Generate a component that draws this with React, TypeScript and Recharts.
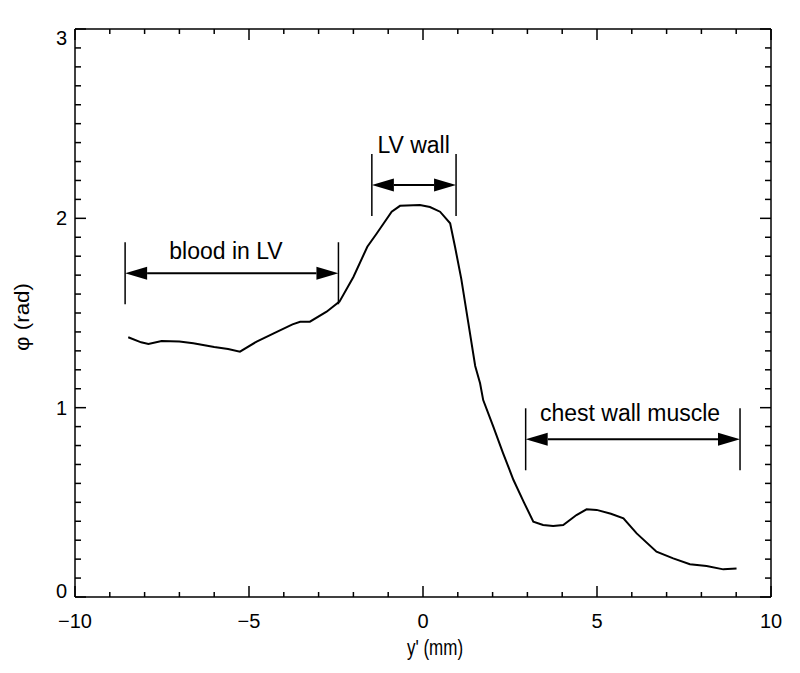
import React from "react";
import {
  LineChart,
  Line,
  XAxis,
  YAxis,
  ReferenceLine,
  ReferenceDot,
} from "recharts";

// profile across the heart: position y' (mm) and phase phi (rad)
const yPos = [
  -8.47, -8.1, -7.89, -7.51, -7.0, -6.6, -6.0, -5.6, -5.26, -4.78, -4.2, -3.75,
  -3.53, -3.25, -2.77, -2.4, -2.0, -1.6, -1.33, -0.9, -0.66, -0.09, 0.2, 0.49,
  0.78, 0.92, 1.1, 1.3, 1.5, 1.64, 1.73, 2.02, 2.3, 2.6, 2.9, 3.17, 3.45, 3.74,
  4.03, 4.41, 4.7, 4.99, 5.4, 5.76, 6.14, 6.71, 7.19, 7.67, 8.15, 8.63, 9.01,
];
const phi = [
  1.372, 1.345, 1.336, 1.352, 1.35, 1.34, 1.32, 1.31, 1.296, 1.349, 1.4, 1.44,
  1.454, 1.454, 1.507, 1.56, 1.69, 1.85, 1.92, 2.035, 2.066, 2.07, 2.06, 2.035,
  1.974, 1.85, 1.68, 1.45, 1.22, 1.129, 1.04, 0.9, 0.76, 0.618, 0.5, 0.398, 0.38,
  0.375, 0.38, 0.433, 0.463, 0.46, 0.44, 0.416, 0.336, 0.239, 0.204, 0.173,
  0.164, 0.146, 0.15,
];

const xDomain: [number, number] = [-10, 10];
const yDomain: [number, number] = [0, 3];
const xTicks = Array.from({ length: 21 }, (_, i) => i - 10);
const yTicks = Array.from({ length: 31 }, (_, i) => i / 10);
const xMajorStep = 5;

// region markers: arrow span, arrow height, text anchor
const regions = [
  { label: "blood in LV", from: -8.56, to: -2.43, at: 1.71, textX: -5.66, textY: 1.828 },
  { label: "LV wall", from: -1.47, to: 0.95, at: 2.176, textX: -0.27, textY: 2.388 },
  { label: "chest wall muscle", from: 2.95, to: 9.11, at: 0.833, textX: 5.95, textY: 0.972 },
];

const data = yPos.map((x, i) => ({ x, phi: phi[i] }));

const FONT = "'Liberation Sans', Arial, Helvetica, sans-serif";
const INK = "#000";

const W = 792;
const H = 665;
const MARGIN = { top: 21, right: 29, left: 7, bottom: 26 };
const Y_AXIS_W = 60;
const X_AXIS_H = 50;
// inner plot size, used to mirror ticks onto the top and right frame
const PLOT_W = W - MARGIN.left - MARGIN.right - Y_AXIS_W;
const PLOT_H = H - MARGIN.top - MARGIN.bottom - X_AXIS_H;

const isMajorY = (v: number) => Math.abs(v - Math.round(v)) < 1e-6;

function BottomTick({ x, y, payload }: any) {
  const v = payload.value;
  const len = v % xMajorStep === 0 ? 11 : 5;
  const top = y - PLOT_H;
  return (
    <g>
      <line x1={x} y1={y} x2={x} y2={y - len} stroke={INK} strokeWidth={1.5} />
      <line x1={x} y1={top} x2={x} y2={top + len} stroke={INK} strokeWidth={1.5} />
      {len > 5 && (
        <text x={x} y={y + 31} textAnchor="middle" fontSize={20} fontFamily={FONT} fill={INK}>
          {v < 0 ? `\u2212${Math.abs(v)}` : v}
        </text>
      )}
    </g>
  );
}

function LeftTick({ x, y, payload }: any) {
  const v = payload.value;
  const major = isMajorY(v);
  const len = major ? 11 : 6;
  const right = x + PLOT_W;
  // end labels sit a little inside the box
  const shift = v >= yDomain[1] ? 9 : v <= yDomain[0] ? -6 : 0;
  return (
    <g>
      <line x1={x} y1={y} x2={x + len} y2={y} stroke={INK} strokeWidth={1.5} />
      <line x1={right} y1={y} x2={right - len} y2={y} stroke={INK} strokeWidth={1.5} />
      {major && (
        <text x={x - 8} y={y + 7 + shift} textAnchor="end" fontSize={20} fontFamily={FONT} fill={INK}>
          {Math.round(v)}
        </text>
      )}
    </g>
  );
}

function SpanArrow({ x1, y1, x2 }: any) {
  const head = 22;
  const half = 6.5;
  const bar = 31;
  return (
    <g>
      <line x1={x1 + head} y1={y1} x2={x2 - head} y2={y1} stroke={INK} strokeWidth={2} />
      <polygon points={`${x1},${y1} ${x1 + head},${y1 - half} ${x1 + head},${y1 + half}`} fill={INK} />
      <polygon points={`${x2},${y1} ${x2 - head},${y1 - half} ${x2 - head},${y1 + half}`} fill={INK} />
      <line x1={x1} y1={y1 - bar} x2={x1} y2={y1 + bar} stroke={INK} strokeWidth={1.5} />
      <line x1={x2} y1={y1 - bar} x2={x2} y2={y1 + bar} stroke={INK} strokeWidth={1.5} />
    </g>
  );
}

export default function App() {
  return (
    <div style={{ background: "#fff", width: W, height: H }}>
      <LineChart width={W} height={H} data={data} margin={MARGIN}>
        <XAxis
          dataKey="x"
          type="number"
          domain={xDomain}
          ticks={xTicks}
          interval={0}
          allowDataOverflow
          height={X_AXIS_H}
          tickSize={0}
          tickMargin={0}
          tickLine={false}
          axisLine={{ stroke: INK, strokeWidth: 1.5 }}
          tick={BottomTick}
          label={(p: any) => {
            const cx = p.viewBox.x + p.viewBox.width / 2 + 12;
            const cy = p.viewBox.y + 58;
            return (
              <text
                transform={`translate(${cx}, ${cy}) scale(1, 1.35)`}
                textAnchor="middle"
                fontSize={17}
                fontFamily={FONT}
                fill={INK}
              >
                y' (mm)
              </text>
            );
          }}
        />
        <YAxis
          type="number"
          domain={yDomain}
          ticks={yTicks}
          interval={0}
          allowDataOverflow
          width={Y_AXIS_W}
          tickSize={0}
          tickMargin={0}
          tickLine={false}
          axisLine={{ stroke: INK, strokeWidth: 1.5 }}
          tick={LeftTick}
          label={(p: any) => {
            const cx = p.viewBox.x + 7;
            const cy = p.viewBox.y + p.viewBox.height / 2 + 4;
            return (
              <text
                transform={`translate(${cx}, ${cy}) rotate(-90) scale(1.12, 1)`}
                textAnchor="middle"
                dominantBaseline="central"
                fontSize={20}
                fontFamily={FONT}
                fill={INK}
              >
                {"\u03c6 (rad)"}
              </text>
            );
          }}
        />
        {/* top and right sides of the frame */}
        <ReferenceLine y={yDomain[1]} stroke={INK} strokeWidth={1.5} ifOverflow="visible" />
        <ReferenceLine x={xDomain[1]} stroke={INK} strokeWidth={1.5} ifOverflow="visible" />
        <Line
          dataKey="phi"
          type="linear"
          stroke={INK}
          strokeWidth={2}
          dot={false}
          isAnimationActive={false}
        />
        {regions.map((r) => (
          <ReferenceLine
            key={r.label}
            segment={[
              { x: r.from, y: r.at },
              { x: r.to, y: r.at },
            ]}
            shape={SpanArrow}
            ifOverflow="visible"
          />
        ))}
        {regions.map((r) => (
          <ReferenceDot
            key={`${r.label}-text`}
            x={r.textX}
            y={r.textY}
            r={0}
            ifOverflow="visible"
            shape={(p: any) => (
              <text
                x={p.cx}
                y={p.cy}
                textAnchor="middle"
                dominantBaseline="central"
                fontSize={23}
                fontFamily={FONT}
                fill={INK}
              >
                {r.label}
              </text>
            )}
          />
        ))}
      </LineChart>
    </div>
  );
}
